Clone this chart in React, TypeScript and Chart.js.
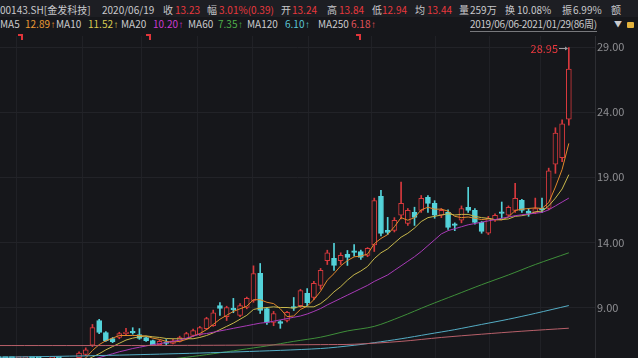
import React, { useEffect, useRef } from "react";
import { Chart, registerables } from "chart.js";
Chart.register(...registerables);

// ---- weekly candles, 2019/06/06 - 2021/01/29 (86 weeks) ----
const opens = [4.6,4.55,4.45,4.4,4.5,4.6,4.5,4.45,4.6,4.7, 4.65,4.8,5.15,5.4,6.1,8.0,7.08,6.62,6.7,7.0, 7.1,6.92,6.7,6.46,6.15,6.26,6.25,6.4,6.6,6.85, 6.9,7.38,7.6,9.15,8.3,8.86,8.4,9.0,9.55,11.62, 8.92,7.85,7.92,8.0,9.0,9.15,10.08,9.77,10.7,12.6, 12.77,12.6,13.08,13.24,13.3,13.0,13.8,17.54,14.92,14.92, 16.08,15.46,16.3,16.46,17.46,17.0,16.08,16.3,15.32,15.7, 16.7,16.46,15.54,14.7,15.7,16.3,16.08,16.46,17.23,16.4, 16.3,16.62,16.6,20.0,20.5,23.46];
const closes = [4.55,4.45,4.4,4.5,4.6,4.5,4.45,4.6,4.7,4.65, 4.8,4.95,5.5,5.75,7.45,7.08,6.46,6.38,7.0,7.05, 7.05,6.62,6.46,6.15,6.4,6.24,6.45,6.7,7.0,7.23, 7.46,8.15,8.6,8.92,9.0,8.84,9.15,9.7,11.6,8.77, 7.85,8.54,7.77,8.62,8.95,10.3,9.38,10.85,11.85,13.2, 12.23,13.0,12.85,13.23,12.85,13.54,17.2,14.69,14.77,15.7, 17.0,16.46,15.92,17.38,17.0,16.08,16.46,15.15,15.3,16.6, 16.46,15.54,14.85,15.85,16.08,16.23,16.7,17.38,16.46,16.23, 16.6,16.5,19.5,22.4,23.1,27.3];
const highs = [4.7,4.62,4.52,4.58,4.68,4.66,4.56,4.66,4.78,4.8, 4.88,5.05,5.6,5.9,7.7,8.1,7.15,6.7,7.1,7.4, 7.45,7.38,6.75,6.5,6.5,6.54,6.55,6.8,7.1,7.35, 7.55,8.25,8.8,9.38,9.1,9.7,9.3,9.8,12.2,12.38, 9.0,8.7,8.0,8.7,9.77,10.4,10.46,11.0,12.0,13.4, 13.92,13.2,13.38,13.84,13.4,13.6,17.4,18.0,15.92,15.9, 18.62,16.6,16.7,17.6,17.6,17.2,16.6,16.5,15.5,16.8, 18.23,16.6,15.6,16.0,16.2,17.1,16.8,18.54,17.3,16.6, 17.4,17.4,19.7,22.8,23.4,28.95];
const lows = [4.48,4.4,4.32,4.35,4.45,4.44,4.38,4.42,4.55,4.58, 4.6,4.75,5.05,5.3,6.0,7.0,6.4,6.3,6.6,6.9, 6.95,6.55,6.4,6.1,6.1,6.08,6.2,6.35,6.55,6.8, 6.85,7.3,7.55,8.4,8.0,8.6,8.3,8.9,9.4,8.54, 7.7,7.6,7.4,7.9,8.77,9.0,9.15,9.6,10.4,12.3, 11.85,12.3,12.23,12.94,12.7,12.9,13.3,14.5,14.6,14.8, 15.8,15.3,15.3,16.3,16.3,15.85,15.9,15.0,14.9,15.5, 16.3,15.4,14.7,14.6,15.6,15.85,16.0,16.3,16.3,16.0, 16.2,16.3,16.5,19.3,20.2,23.0];

// ---- moving averages ----
const ma5 = [4.6,4.55,4.5,4.5,4.5,4.5,4.5,4.52,4.57,4.58, 4.64,4.74,4.92,5.13,5.7,6.15,6.45,6.65,6.85,6.85, 6.85,6.85,6.8,6.65,6.55,6.4,6.35,6.4,6.55,6.8, 7.0,7.3,7.7,8.1,8.4,8.7,8.9,9.1,9.6,9.6, 9.4,9.3,8.9,8.3,8.35,8.85,9.1,9.6,10.25,11.1, 11.6,12.2,12.6,12.89,12.95,13.1,13.9,14.3,14.6,15.2, 15.9,15.7,15.9,16.5,16.7,16.55,16.55,16.4,16.0,15.9, 15.95,15.85,15.75,15.8,15.75,15.72,15.95,16.45,16.55,16.6, 16.65,16.6,17.05,18.25,19.6,21.6];
const ma10 = [4.55,4.55,4.52,4.5,4.5,4.5,4.5,4.52,4.55,4.57, 4.6,4.65,4.75,4.95,5.2,5.45,5.75,6.0,6.25,6.5, 6.65,6.75,6.82,6.75,6.7,6.62,6.6,6.6,6.6,6.6, 6.7,6.85,7.05,7.3,7.55,7.8,8.1,8.4,8.85,8.95, 9.0,9.05,9.0,9.0,8.95,9.1,9.05,9.05,9.3,9.7, 10.2,10.6,11.1,11.52,11.8,12.15,12.75,13.2,13.5,13.95, 14.4,14.7,15.1,15.6,15.9,16.0,16.1,16.2,16.1,16.15, 16.15,16.0,15.9,15.85,15.75,15.75,15.8,16.0,16.05,16.15, 16.35,16.4,16.8,17.4,18.1,19.2];
const ma20 = [4.6,4.6,4.58,4.57,4.56,4.56,4.55,4.55,4.56,4.57, 4.6,4.63,4.7,4.8,5.0,5.15,5.3,5.45,5.6,5.72, 5.85,5.95,6.05,6.15,6.23,6.3,6.4,6.5,6.65,6.8, 6.95,7.0,7.1,7.2,7.3,7.4,7.5,7.6,7.7,7.8, 7.85,7.95,8.05,8.15,8.25,8.35,8.5,8.7,8.92,9.2, 9.45,9.7,9.95,10.2,10.45,10.7,11.0,11.25,11.5,11.85, 12.2,12.55,12.9,13.3,13.75,14.2,14.65,14.9,15.05,15.2, 15.35,15.45,15.55,15.65,15.75,15.85,15.95,16.05,16.12,16.18, 16.24,16.3,16.5,16.8,17.1,17.4];
const ma60Idx = [0, 12, 20, 24, 28, 32, 36, 40, 44, 48, 52, 56, 60, 64, 68, 72, 76, 80, 85];
const ma60 = [4.3, 4.5, 4.75, 4.95, 5.18, 5.45, 5.75, 6.05, 6.4, 6.72, 7.2, 7.55, 8.3, 9.15, 9.95, 10.75, 11.5, 12.3, 13.2];
const ma120Idx = [0, 12, 24, 36, 48, 53, 56, 60, 64, 68, 72, 76, 80, 85];
const ma120 = [5.18, 5.28, 5.42, 5.6, 5.85, 6.1, 6.3, 6.6, 6.95, 7.3, 7.7, 8.1, 8.55, 9.15];
const ma250Idx = [0, 16, 32, 48, 53, 60, 66, 72, 78, 85];
const ma250 = [6.08, 6.08, 6.1, 6.15, 6.18, 6.4, 6.7, 6.95, 7.18, 7.41];

const priceTicks = [9, 14, 19, 24, 29];
const monthBreaks = [7.6, 17.5, 25.2, 34.1, 41.7, 50.6, 60.7, 69.5, 77.0];

const BG = "#16171b";
const UP = "#d8393d";
const DOWN = "#54d3da";
const LIGHT = "#c9c9cc";
const RED = "#e8383d";
const FONT = "'Noto Sans CJK SC', 'Noto Sans', sans-serif";

const row1: [string, number, string][] = [
  ["00143.SH[金发科技]", 0, LIGHT],
  ["2020/06/19", 102, LIGHT],
  ["收", 163, LIGHT], ["13.23", 175, RED],
  ["幅", 207, LIGHT], ["3.01%(0.39)", 219, RED],
  ["开", 281, LIGHT], ["13.24", 292, RED],
  ["高", 327, LIGHT], ["13.84", 339, RED],
  ["低", 372, LIGHT], ["12.94", 382, RED],
  ["均", 415, LIGHT], ["13.44", 427, RED],
  ["量", 459, LIGHT], ["259万", 470, LIGHT],
  ["换", 505, LIGHT], ["10.08%", 517, LIGHT],
  ["振", 562, LIGHT], ["6.99%", 573, LIGHT],
  ["额", 611, LIGHT],
];
const row2: [string, number, string][] = [
  ["MA5", 0, LIGHT], ["12.89", 25, "#eb9a35"],
  ["MA10", 56, LIGHT], ["11.52", 88, "#d8cc52"],
  ["MA20", 121, LIGHT], ["10.20", 153, "#c93bd0"],
  ["MA60", 188, LIGHT], ["7.35", 218, "#4fb04a"],
  ["MA120", 247, LIGHT], ["6.10", 285, "#5bc6d6"],
  ["MA250", 318, LIGHT], ["6.18", 351, "#e0525a"],
];

const maxLabel = {
  id: "maxLabel",
  afterDatasetsDraw(chart: any) {
    const xs = chart.scales.x, ys = chart.scales.y, ctx = chart.ctx;
    let k = 0;
    highs.forEach((h, i) => { if (h > highs[k]) k = i; });
    const px = Math.round(xs.getPixelForValue(k)), py = Math.round(ys.getPixelForValue(highs[k])) + 0.5;
    ctx.save();
    ctx.strokeStyle = "#9a9a9e";
    ctx.fillStyle = "#9a9a9e";
    ctx.lineWidth = 1;
    ctx.beginPath(); ctx.moveTo(px - 10, py); ctx.lineTo(px - 2, py); ctx.stroke();
    ctx.beginPath(); ctx.moveTo(px - 1, py); ctx.lineTo(px - 4, py - 2); ctx.lineTo(px - 4, py + 2); ctx.closePath(); ctx.fill();
    ctx.fillStyle = RED;
    ctx.font = `11px ${FONT}`;
    ctx.textAlign = "right";
    ctx.textBaseline = "middle";
    ctx.fillText(highs[k].toFixed(2), px - 11, py);
    ctx.restore();
  },
};

export default function App() {
  const ref = useRef<HTMLCanvasElement>(null);
  useEffect(() => {
    const idx = opens.map((_, i) => i);
    const up = idx.map((i) => closes[i] >= opens[i]);
    const line = (label: string, color: string, pts: { x: number; y: number }[], tension = 0) => ({
      type: "line" as const, label, data: pts, borderColor: color, borderWidth: 1,
      pointRadius: 0, tension, order: 1, fill: false,
    });
    const chart = new Chart(ref.current!, {
      type: "bar",
      data: {
        datasets: [
          line("MA250", "#b8606a", ma250Idx.map((x, j) => ({ x, y: ma250[j] })), 0.3),
          line("MA120", "#55aec6", ma120Idx.map((x, j) => ({ x, y: ma120[j] })), 0.3),
          line("MA60", "#3f8f3a", ma60Idx.map((x, j) => ({ x, y: ma60[j] })), 0.3),
          line("MA20", "#a93bb8", idx.map((i) => ({ x: i, y: ma20[i] }))),
          line("MA10", "#c9b94c", idx.map((i) => ({ x: i, y: ma10[i] }))),
          line("MA5", "#e2892b", idx.map((i) => ({ x: i, y: ma5[i] }))),
          {
            type: "bar", label: "body",
            data: idx.map((i) => ({ x: i, y: [opens[i], closes[i]] })) as any,
            backgroundColor: idx.map((i) => (up[i] ? BG : DOWN)),
            borderColor: idx.map((i) => (up[i] ? UP : DOWN)),
            borderWidth: 1, borderSkipped: false, barThickness: 5, grouped: false,
            minBarLength: 1.5, order: 2,
          } as any,
          {
            type: "bar", label: "wick",
            data: idx.map((i) => ({ x: i, y: [lows[i], highs[i]] })) as any,
            backgroundColor: idx.map((i) => (up[i] ? UP : DOWN)),
            borderWidth: 0, barThickness: 1, grouped: false, order: 3,
          } as any,
        ],
      },
      options: {
        responsive: false, animation: false, devicePixelRatio: 1,
        layout: { padding: 0 },
        plugins: { legend: { display: false }, tooltip: { enabled: false } },
        scales: {
          x: {
            type: "linear", min: 0.22, max: 88.9, offset: false,
            grid: { color: "#202126", drawTicks: false },
            border: { display: false },
            ticks: { display: false },
            afterBuildTicks: (s: any) => { s.ticks = monthBreaks.map((v) => ({ value: v })); },
            afterFit: (s: any) => { s.height = 0; s.paddingLeft = 0; s.paddingRight = 0; },
          },
          y: {
            position: "right", min: 5.123, max: 29.845,
            grid: { color: "#222328", drawTicks: false },
            border: { display: true, color: "#2d2e33" },
            ticks: {
              color: "#8f8f93", font: { size: 11, family: FONT }, padding: 2,
              callback: (v: any) => Number(v).toFixed(2),
            },
            afterBuildTicks: (s: any) => { s.ticks = priceTicks.map((v) => ({ value: v })); },
            afterFit: (s: any) => { s.width = 43; s.paddingTop = 0; s.paddingBottom = 0; },
          },
        },
      } as any,
      plugins: [maxLabel],
    });
    return () => chart.destroy();
  }, []);

  const span = (t: string, x: number, c: string, top: number, key: string, arrow = false) => (
    <span key={key} style={{ position: "absolute", left: x, top, color: c, fontSize: 10, lineHeight: "14px", whiteSpace: "nowrap" }}>
      {t}
      {arrow && <span style={{ fontFamily: "'Liberation Sans', sans-serif", fontSize: 10, marginLeft: 0.5 }}>↑</span>}
    </span>
  );

  return (
    <div style={{ position: "fixed", left: 0, top: 0, width: 638, height: 358, background: BG, overflow: "hidden", fontFamily: FONT }}>
      <div style={{ position: "absolute", left: 0, top: 0, width: 638, height: 17, background: "#1d1e23" }} />
      {row1.map(([t, x, c], i) => span(t, x, c, 3, "a" + i))}
      {row2.map(([t, x, c], i) => span(t, x, c, 17, "b" + i, i % 2 === 1))}
      <span style={{ position: "absolute", left: 470, top: 17, color: LIGHT, fontSize: 10, letterSpacing: -0.35, lineHeight: "14px", whiteSpace: "nowrap", borderBottom: "1px solid #77787c" }}>2019/06/06-2021/01/29(86周)</span>
      <span style={{ position: "absolute", left: 614, top: 17, color: LIGHT, fontSize: 8, lineHeight: "14px" }}>▼</span>
      <div style={{ position: "absolute", left: 627, top: 22, width: 7, height: 6, background: "#e3b23c", borderRadius: 1 }} />
      {[18, 146, 356].map((x) => (
        <div key={x} style={{ position: "absolute", left: x, top: 34, width: 3, height: 4, borderTop: "2px solid #e0353a", borderRight: "2px solid #e0353a" }} />
      ))}
      <canvas ref={ref} width={638} height={322} style={{ position: "absolute", left: 0, top: 36, width: 638, height: 322 }} />
    </div>
  );
}
